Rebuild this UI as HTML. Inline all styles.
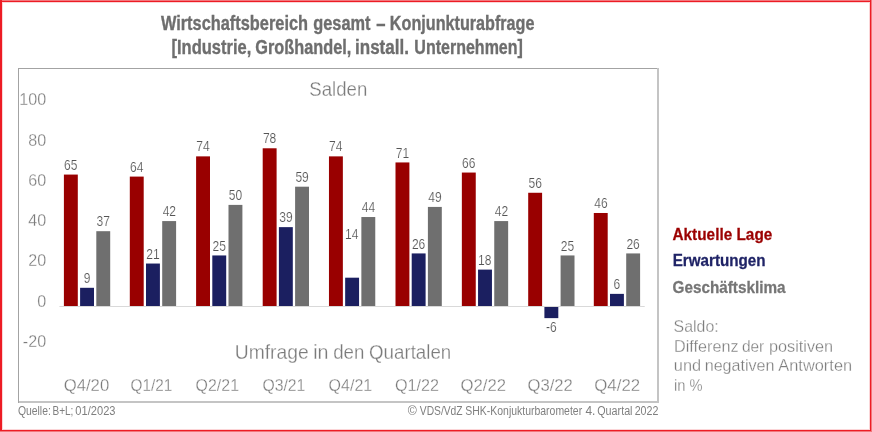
<!DOCTYPE html>
<html><head><meta charset="utf-8"><style>
html,body{margin:0;padding:0;background:#fff;width:872px;height:432px;overflow:hidden}
svg{display:block;font-family:"Liberation Sans",sans-serif;will-change:transform}
</style></head><body>
<svg width="872" height="432" viewBox="0 0 872 432">
<rect width="872" height="432" fill="#fff"/>
<rect x="0" y="0" width="872" height="1" fill="#F2777C"/>
<rect x="0" y="1" width="872" height="1" fill="#ED1C24"/>
<rect x="2" y="2" width="867" height="1" fill="#FBD5D7"/>
<rect x="0" y="0" width="2" height="432" fill="#ED1C24"/>
<rect x="2" y="2" width="1" height="427" fill="#FBD5D7"/>
<rect x="869" y="2" width="1" height="428" fill="#FBD5D7"/>
<rect x="870" y="0" width="1" height="432" fill="#ED1C24"/>
<rect x="871" y="0" width="1" height="432" fill="#F2777C"/>
<rect x="2" y="429" width="867" height="1" fill="#FBD5D7"/>
<rect x="0" y="430" width="871" height="1" fill="#ED1C24"/>
<rect x="0" y="431" width="872" height="1" fill="#F2777C"/>
<rect x="18" y="68" width="1" height="335" fill="#A3A3A3"/>
<rect x="18" y="68" width="640" height="1" fill="#A3A3A3"/>
<rect x="657" y="68" width="2" height="335" fill="#C4C4C4"/>
<rect x="19" y="401" width="639" height="2" fill="#C4C4C4"/>
<rect x="63.90" y="174.57" width="13.9" height="131.43" fill="#990000"/>
<rect x="80.10" y="287.80" width="13.9" height="18.20" fill="#1B1F60"/>
<rect x="96.30" y="231.19" width="13.9" height="74.81" fill="#6F6F6F"/>
<rect x="129.80" y="176.59" width="13.9" height="129.41" fill="#990000"/>
<rect x="146.00" y="263.54" width="13.9" height="42.46" fill="#1B1F60"/>
<rect x="162.20" y="221.08" width="13.9" height="84.92" fill="#6F6F6F"/>
<rect x="196.10" y="156.37" width="13.9" height="149.63" fill="#990000"/>
<rect x="212.30" y="255.45" width="13.9" height="50.55" fill="#1B1F60"/>
<rect x="228.50" y="204.90" width="13.9" height="101.10" fill="#6F6F6F"/>
<rect x="262.70" y="148.28" width="13.9" height="157.72" fill="#990000"/>
<rect x="278.90" y="227.14" width="13.9" height="78.86" fill="#1B1F60"/>
<rect x="295.10" y="186.70" width="13.9" height="119.30" fill="#6F6F6F"/>
<rect x="328.96" y="156.37" width="13.9" height="149.63" fill="#990000"/>
<rect x="345.16" y="277.69" width="13.9" height="28.31" fill="#1B1F60"/>
<rect x="361.36" y="217.03" width="13.9" height="88.97" fill="#6F6F6F"/>
<rect x="395.50" y="162.44" width="13.9" height="143.56" fill="#990000"/>
<rect x="411.70" y="253.43" width="13.9" height="52.57" fill="#1B1F60"/>
<rect x="427.90" y="206.92" width="13.9" height="99.08" fill="#6F6F6F"/>
<rect x="461.85" y="172.55" width="13.9" height="133.45" fill="#990000"/>
<rect x="478.05" y="269.60" width="13.9" height="36.40" fill="#1B1F60"/>
<rect x="494.25" y="221.08" width="13.9" height="84.92" fill="#6F6F6F"/>
<rect x="528.20" y="192.77" width="13.9" height="113.23" fill="#990000"/>
<rect x="544.40" y="306.80" width="13.9" height="11.33" fill="#1B1F60"/>
<rect x="560.60" y="255.45" width="13.9" height="50.55" fill="#6F6F6F"/>
<rect x="593.80" y="212.99" width="13.9" height="93.01" fill="#990000"/>
<rect x="610.00" y="293.87" width="13.9" height="12.13" fill="#1B1F60"/>
<rect x="626.20" y="253.43" width="13.9" height="52.57" fill="#6F6F6F"/>
<rect x="59.4" y="306" width="585.3" height="1" fill="#D9D9D9"/>
<text transform="translate(160.90 29.80) scale(0.8301 1)" font-size="19.71" font-weight="bold" fill="#6E6E6E" stroke="#6E6E6E" stroke-width="0.35">Wirtschaftsbereich</text>
<text transform="translate(313.24 29.80) scale(0.8309 1)" font-size="19.71" font-weight="bold" fill="#6E6E6E" stroke="#6E6E6E" stroke-width="0.35">gesamt</text>
<text transform="translate(376.20 29.80) scale(0.8422 1)" font-size="19.71" font-weight="bold" fill="#6E6E6E" stroke="#6E6E6E" stroke-width="0.35">–</text>
<text transform="translate(389.87 29.80) scale(0.8207 1)" font-size="19.71" font-weight="bold" fill="#6E6E6E" stroke="#6E6E6E" stroke-width="0.35">Konjunkturabfrage</text>
<text transform="translate(171.51 53.80) scale(0.8380 1)" font-size="19.71" font-weight="bold" fill="#6E6E6E" stroke="#6E6E6E" stroke-width="0.35">[Industrie,</text>
<text transform="translate(255.35 53.80) scale(0.8277 1)" font-size="19.71" font-weight="bold" fill="#6E6E6E" stroke="#6E6E6E" stroke-width="0.35">Großhandel,</text>
<text transform="translate(355.01 53.80) scale(0.8640 1)" font-size="19.71" font-weight="bold" fill="#6E6E6E" stroke="#6E6E6E" stroke-width="0.35">install.</text>
<text transform="translate(414.34 53.80) scale(0.8128 1)" font-size="19.71" font-weight="bold" fill="#6E6E6E" stroke="#6E6E6E" stroke-width="0.35">Unternehmen]</text>
<text transform="translate(309.27 95.50) scale(0.9054 1)" font-size="20.58" fill="#7B7B7B" stroke="#fff" stroke-width="0.28">Salden</text>
<text transform="translate(234.70 358.80) scale(0.9384 1)" font-size="20.58" fill="#7B7B7B" stroke="#fff" stroke-width="0.28">Umfrage</text>
<text transform="translate(313.22 358.80) scale(0.9566 1)" font-size="20.58" fill="#7B7B7B" stroke="#fff" stroke-width="0.28">in</text>
<text transform="translate(333.15 358.80) scale(0.9095 1)" font-size="20.58" fill="#7B7B7B" stroke="#fff" stroke-width="0.28">den</text>
<text transform="translate(369.06 358.80) scale(0.9094 1)" font-size="20.58" fill="#7B7B7B" stroke="#fff" stroke-width="0.28">Quartalen</text>
<text transform="translate(19.31 105.00) scale(0.9677 1)" font-size="16.67" fill="#7B7B7B" stroke="#fff" stroke-width="0.28">100</text>
<text transform="translate(28.34 145.60) scale(0.9677 1)" font-size="16.67" fill="#7B7B7B" stroke="#fff" stroke-width="0.28">80</text>
<text transform="translate(28.34 185.80) scale(0.9677 1)" font-size="16.67" fill="#7B7B7B" stroke="#fff" stroke-width="0.28">60</text>
<text transform="translate(28.34 226.10) scale(0.9677 1)" font-size="16.67" fill="#7B7B7B" stroke="#fff" stroke-width="0.28">40</text>
<text transform="translate(28.34 266.30) scale(0.9677 1)" font-size="16.67" fill="#7B7B7B" stroke="#fff" stroke-width="0.28">20</text>
<text transform="translate(37.21 306.60) scale(0.9677 1)" font-size="16.67" fill="#7B7B7B" stroke="#fff" stroke-width="0.28">0</text>
<text transform="translate(22.86 346.80) scale(0.9677 1)" font-size="16.67" fill="#7B7B7B" stroke="#fff" stroke-width="0.28">-20</text>
<text transform="translate(63.66 390.60) scale(1.0126 1)" font-size="16.52" fill="#7B7B7B" stroke="#fff" stroke-width="0.28">Q4/20</text>
<text transform="translate(130.53 390.60) scale(0.9287 1)" font-size="16.52" fill="#7B7B7B" stroke="#fff" stroke-width="0.28">Q1/21</text>
<text transform="translate(195.60 390.60) scale(0.9656 1)" font-size="16.52" fill="#7B7B7B" stroke="#fff" stroke-width="0.28">Q2/21</text>
<text transform="translate(262.41 390.60) scale(0.9541 1)" font-size="16.52" fill="#7B7B7B" stroke="#fff" stroke-width="0.28">Q3/21</text>
<text transform="translate(328.60 390.60) scale(0.9703 1)" font-size="16.52" fill="#7B7B7B" stroke="#fff" stroke-width="0.28">Q4/21</text>
<text transform="translate(394.89 390.60) scale(0.9818 1)" font-size="16.52" fill="#7B7B7B" stroke="#fff" stroke-width="0.28">Q1/22</text>
<text transform="translate(460.56 390.60) scale(1.0142 1)" font-size="16.52" fill="#7B7B7B" stroke="#fff" stroke-width="0.28">Q2/22</text>
<text transform="translate(527.47 390.60) scale(1.0072 1)" font-size="16.52" fill="#7B7B7B" stroke="#fff" stroke-width="0.28">Q3/22</text>
<text transform="translate(594.26 390.60) scale(1.0211 1)" font-size="16.52" fill="#7B7B7B" stroke="#fff" stroke-width="0.28">Q4/22</text>
<text transform="translate(64.10 169.67) scale(0.8534 1)" font-size="14.13" fill="#555555" stroke="#fff" stroke-width="0.18">65</text>
<text transform="translate(83.67 282.90) scale(0.8534 1)" font-size="14.13" fill="#555555" stroke="#fff" stroke-width="0.18">9</text>
<text transform="translate(96.62 226.29) scale(0.8534 1)" font-size="14.13" fill="#555555" stroke="#fff" stroke-width="0.18">37</text>
<text transform="translate(129.94 171.69) scale(0.8534 1)" font-size="14.13" fill="#555555" stroke="#fff" stroke-width="0.18">64</text>
<text transform="translate(146.26 258.64) scale(0.8534 1)" font-size="14.13" fill="#555555" stroke="#fff" stroke-width="0.18">21</text>
<text transform="translate(162.64 216.18) scale(0.8534 1)" font-size="14.13" fill="#555555" stroke="#fff" stroke-width="0.18">42</text>
<text transform="translate(196.24 151.47) scale(0.8534 1)" font-size="14.13" fill="#555555" stroke="#fff" stroke-width="0.18">74</text>
<text transform="translate(212.50 250.55) scale(0.8534 1)" font-size="14.13" fill="#555555" stroke="#fff" stroke-width="0.18">25</text>
<text transform="translate(228.76 200.00) scale(0.8534 1)" font-size="14.13" fill="#555555" stroke="#fff" stroke-width="0.18">50</text>
<text transform="translate(262.90 143.38) scale(0.8534 1)" font-size="14.13" fill="#555555" stroke="#fff" stroke-width="0.18">78</text>
<text transform="translate(279.22 222.24) scale(0.8534 1)" font-size="14.13" fill="#555555" stroke="#fff" stroke-width="0.18">39</text>
<text transform="translate(295.42 181.80) scale(0.8534 1)" font-size="14.13" fill="#555555" stroke="#fff" stroke-width="0.18">59</text>
<text transform="translate(329.10 151.47) scale(0.8534 1)" font-size="14.13" fill="#555555" stroke="#fff" stroke-width="0.18">74</text>
<text transform="translate(345.12 238.80) scale(0.8534 1)" font-size="14.13" fill="#555555" stroke="#fff" stroke-width="0.18">14</text>
<text transform="translate(361.68 212.13) scale(0.8534 1)" font-size="14.13" fill="#555555" stroke="#fff" stroke-width="0.18">44</text>
<text transform="translate(395.76 157.54) scale(0.8534 1)" font-size="14.13" fill="#555555" stroke="#fff" stroke-width="0.18">71</text>
<text transform="translate(411.90 248.53) scale(0.8534 1)" font-size="14.13" fill="#555555" stroke="#fff" stroke-width="0.18">26</text>
<text transform="translate(428.34 202.02) scale(0.8534 1)" font-size="14.13" fill="#555555" stroke="#fff" stroke-width="0.18">49</text>
<text transform="translate(462.05 167.65) scale(0.8534 1)" font-size="14.13" fill="#555555" stroke="#fff" stroke-width="0.18">66</text>
<text transform="translate(478.07 264.70) scale(0.8534 1)" font-size="14.13" fill="#555555" stroke="#fff" stroke-width="0.18">18</text>
<text transform="translate(494.69 216.18) scale(0.8534 1)" font-size="14.13" fill="#555555" stroke="#fff" stroke-width="0.18">42</text>
<text transform="translate(528.46 187.87) scale(0.8534 1)" font-size="14.13" fill="#555555" stroke="#fff" stroke-width="0.18">56</text>
<text transform="translate(546.04 332.13) scale(0.8534 1)" font-size="14.13" fill="#555555" stroke="#fff" stroke-width="0.18">-6</text>
<text transform="translate(560.80 250.55) scale(0.8534 1)" font-size="14.13" fill="#555555" stroke="#fff" stroke-width="0.18">25</text>
<text transform="translate(594.18 208.09) scale(0.8534 1)" font-size="14.13" fill="#555555" stroke="#fff" stroke-width="0.18">46</text>
<text transform="translate(613.57 288.97) scale(0.8534 1)" font-size="14.13" fill="#555555" stroke="#fff" stroke-width="0.18">6</text>
<text transform="translate(626.40 248.53) scale(0.8534 1)" font-size="14.13" fill="#555555" stroke="#fff" stroke-width="0.18">26</text>
<text transform="translate(672.44 240.00) scale(0.9731 1)" font-size="15.80" font-weight="bold" fill="#9B0000" stroke="#9B0000" stroke-width="0.25">Aktuelle Lage</text>
<text transform="translate(672.64 266.40) scale(0.9622 1)" font-size="15.80" font-weight="bold" fill="#1F2366" stroke="#1F2366" stroke-width="0.25">Erwartungen</text>
<text transform="translate(672.59 292.80) scale(0.9676 1)" font-size="15.80" font-weight="bold" fill="#757575" stroke="#757575" stroke-width="0.25">Geschäftsklima</text>
<text transform="translate(673.60 332.40) scale(0.9304 1)" font-size="17.10" fill="#7D7D7D" stroke="#fff" stroke-width="0.28">Saldo:</text>
<text transform="translate(674.11 351.70) scale(0.9462 1)" font-size="17.10" fill="#7D7D7D" stroke="#fff" stroke-width="0.28">Differenz</text>
<text transform="translate(741.88 351.70) scale(0.9045 1)" font-size="17.10" fill="#7D7D7D" stroke="#fff" stroke-width="0.28">der</text>
<text transform="translate(768.96 351.70) scale(0.9516 1)" font-size="17.10" fill="#7D7D7D" stroke="#fff" stroke-width="0.28">positiven</text>
<text transform="translate(673.86 371.40) scale(0.9555 1)" font-size="17.10" fill="#7D7D7D" stroke="#fff" stroke-width="0.28">und</text>
<text transform="translate(704.67 371.40) scale(0.9426 1)" font-size="17.10" fill="#7D7D7D" stroke="#fff" stroke-width="0.28">negativen</text>
<text transform="translate(778.30 371.40) scale(0.9588 1)" font-size="17.10" fill="#7D7D7D" stroke="#fff" stroke-width="0.28">Antworten</text>
<text transform="translate(674.07 390.60) scale(0.8612 1)" font-size="17.10" fill="#7D7D7D" stroke="#fff" stroke-width="0.28">in %</text>
<text transform="translate(17.88 415.10) scale(0.8341 1)" font-size="12.46" fill="#7F7F7F">Quelle:</text>
<text transform="translate(52.50 415.10) scale(0.8065 1)" font-size="12.46" fill="#7F7F7F">B+L;</text>
<text transform="translate(75.36 415.10) scale(0.8910 1)" font-size="12.46" fill="#7F7F7F">01/2023</text>
<text transform="translate(407.75 415.20) scale(0.9857 1)" font-size="12.46" fill="#7F7F7F">©</text>
<text transform="translate(419.80 415.20) scale(0.8256 1)" font-size="12.46" fill="#7F7F7F">VDS/VdZ</text>
<text transform="translate(465.28 415.20) scale(0.8399 1)" font-size="12.46" fill="#7F7F7F">SHK-Konjukturbarometer</text>
<text transform="translate(585.46 415.20) scale(0.9583 1)" font-size="12.46" fill="#7F7F7F">4.</text>
<text transform="translate(597.26 415.20) scale(0.8633 1)" font-size="12.46" fill="#7F7F7F">Quartal</text>
<text transform="translate(634.67 415.20) scale(0.8553 1)" font-size="12.46" fill="#7F7F7F">2022</text>
</svg>
</body></html>
